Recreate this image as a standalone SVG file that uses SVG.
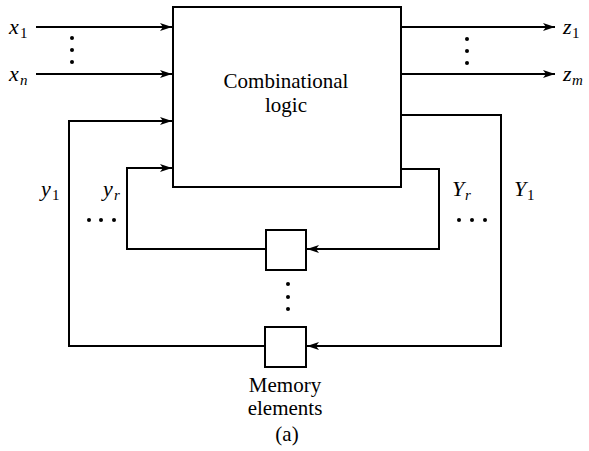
<svg xmlns="http://www.w3.org/2000/svg" width="589" height="451" viewBox="0 0 589 451">
<style>
.ln{fill:none;stroke:#000;stroke-width:2}
.bx{fill:#fff;stroke:#000;stroke-width:2}
.t{font-family:"Liberation Serif",serif;font-size:21px;fill:#000}
.v{font-family:"Liberation Serif",serif;font-size:22px;font-style:italic;fill:#000}
.s{font-family:"Liberation Serif",serif;font-size:15px;fill:#000}
.si{font-family:"Liberation Serif",serif;font-size:15px;font-style:italic;fill:#000}
</style>
<defs>
<marker id="ah" viewBox="0 0 12 8" refX="12" refY="4" markerWidth="12" markerHeight="8" markerUnits="userSpaceOnUse" orient="auto">
<path d="M0,0 L12,4 L0,8 L3,4 Z" fill="#000"/>
</marker>
</defs>
<rect x="0" y="0" width="589" height="451" fill="#fff"/>
<g id="connectors">
<line class="ln" x1="36" y1="27" x2="172" y2="27" marker-end="url(#ah)"/>
<line class="ln" x1="36" y1="74" x2="172" y2="74" marker-end="url(#ah)"/>
<line class="ln" x1="401" y1="27" x2="555" y2="27" marker-end="url(#ah)"/>
<line class="ln" x1="401" y1="74" x2="555" y2="74" marker-end="url(#ah)"/>
<polyline class="ln" points="401,115 501,115 501,346 307,346" marker-end="url(#ah)"/>
<polyline class="ln" points="401,169 439,169 439,249 307,249" marker-end="url(#ah)"/>
<polyline class="ln" points="265,249 127,249 127,168 172,168" marker-end="url(#ah)"/>
<polyline class="ln" points="265,346 69,346 69,121 172,121" marker-end="url(#ah)"/>
</g>
<g id="combinational">
<rect class="bx" x="173" y="7" width="228" height="180"/>
<text class="t" x="286" y="88" text-anchor="middle">Combinational</text>
<text class="t" x="286" y="112" text-anchor="middle">logic</text>
</g>
<g id="memory1">
<rect class="bx" x="266" y="230" width="40" height="40"/>
</g>
<g id="memory2">
<rect class="bx" x="265" y="327" width="41" height="40"/>
</g>
<g id="labels">
<text class="v" x="9" y="34">x</text><text class="s" x="20" y="38">1</text>
<text class="v" x="9" y="81">x</text><text class="si" x="20" y="85">n</text>
<text class="v" x="563" y="34">z</text><text class="s" x="572" y="38">1</text>
<text class="v" x="563" y="81">z</text><text class="si" x="572" y="85">m</text>
<text class="v" x="41" y="196">y</text><text class="s" x="52" y="200">1</text>
<text class="v" x="103" y="196">y</text><text class="si" x="114" y="200">r</text>
<text class="v" x="452" y="196">Y</text><text class="si" x="465" y="200">r</text>
<text class="v" x="514" y="196">Y</text><text class="s" x="527" y="200">1</text>
<text class="t" x="285" y="392" text-anchor="middle">Memory</text>
<text class="t" x="285" y="415" text-anchor="middle">elements</text>
<text class="t" x="287" y="441" text-anchor="middle">(a)</text>
</g>
<g id="dots" fill="#000">
<circle cx="72" cy="38" r="2"/><circle cx="72" cy="50" r="2"/><circle cx="72" cy="62" r="2"/>
<circle cx="467" cy="39" r="2"/><circle cx="467" cy="51" r="2"/><circle cx="467" cy="63" r="2"/>
<circle cx="288" cy="284" r="2"/><circle cx="288" cy="297" r="2"/><circle cx="288" cy="309" r="2"/>
<circle cx="89" cy="220" r="2"/><circle cx="101" cy="220" r="2"/><circle cx="114" cy="220" r="2"/>
<circle cx="459" cy="220" r="2"/><circle cx="472" cy="220" r="2"/><circle cx="485" cy="220" r="2"/>
</g>
</svg>
